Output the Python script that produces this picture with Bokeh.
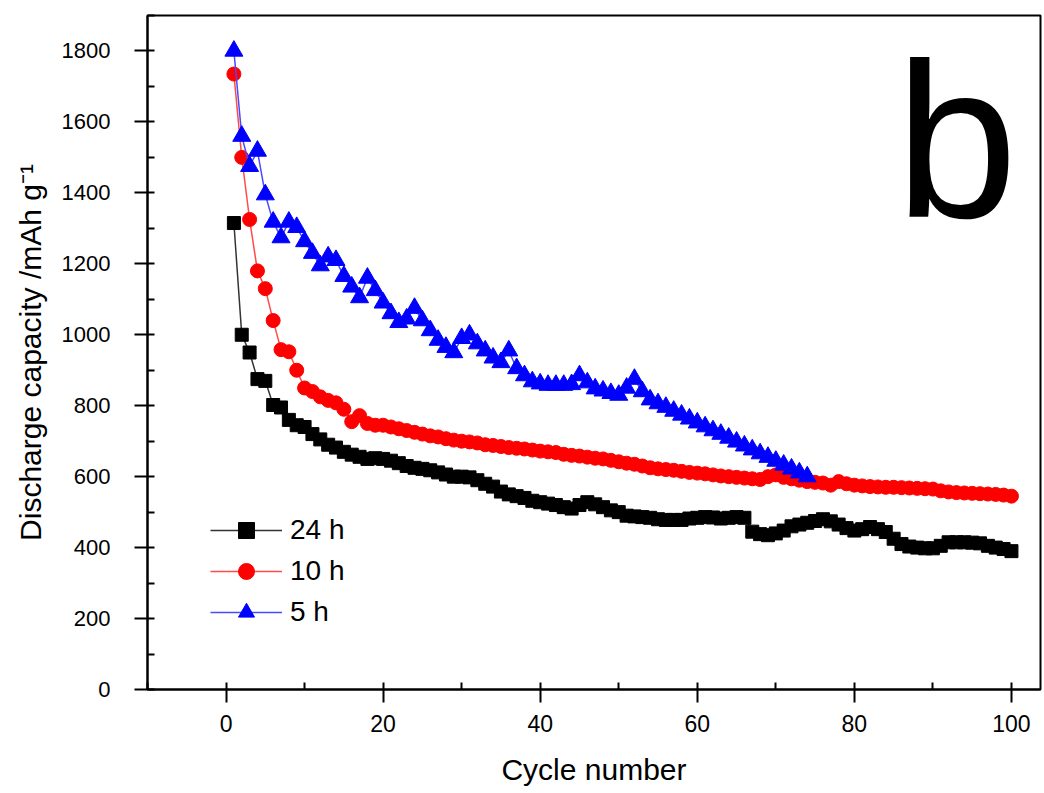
from bokeh.plotting import figure
from bokeh.models import SingleIntervalTicker, Label, Range1d
from bokeh.embed import file_html
from bokeh.resources import INLINE

# ---- data ----
cycles_24h = list(range(1, 101))
cap_24h = [1315, 1000, 950, 875, 870, 802, 795, 760, 745, 740,
           720, 705, 690, 682, 670, 662, 656, 650, 652, 650,
           645, 638, 630, 625, 622, 618, 612, 606, 600, 600,
           598, 590, 580, 572, 558, 550, 545, 540, 532, 528,
           524, 520, 514, 510, 520, 528, 522, 514, 505, 500,
           490, 488, 486, 484, 480, 478, 478, 478, 482, 484,
           486, 485, 482, 484, 486, 484, 445, 438, 435, 440,
           448, 460, 465, 470, 475, 480, 474, 465, 455, 448,
           452, 458, 452, 444, 425, 410, 403, 400, 398, 398,
           405, 415, 415, 415, 414, 412, 405, 400, 396, 390]

cycles_10h = list(range(1, 101))
cap_10h = [1735, 1500, 1325, 1180, 1130, 1040, 958, 952, 900, 850,
           840, 825, 815, 808, 790, 755, 772, 750, 745, 745,
           740, 735, 730, 725, 720, 715, 712, 707, 703, 700,
           698, 695, 690, 688, 685, 682, 680, 678, 675, 672,
           670, 668, 663, 660, 658, 655, 652, 650, 646, 642,
           638, 635, 630, 625, 622, 620, 618, 615, 612, 610,
           608, 605, 602, 600, 598, 596, 594, 592, 600, 605,
           598, 594, 590, 586, 584, 582, 576, 586, 580, 576,
           574, 572, 571, 570, 570, 569, 568, 567, 566, 565,
           560, 557, 555, 554, 553, 552, 551, 550, 548, 545]

cycles_5h = list(range(1, 75))
cap_5h = [1800, 1560, 1475, 1518, 1395, 1318, 1274, 1318, 1303, 1263,
          1230, 1195, 1220, 1210, 1165, 1135, 1105, 1160, 1125, 1090,
          1060, 1035, 1045, 1075, 1040, 1012, 985, 965, 950, 990,
          1000, 975, 955, 935, 922, 955, 905, 885, 868, 862,
          858, 858, 858, 860, 885, 865, 848, 842, 835, 830,
          850, 875, 840, 817, 806, 796, 785, 774, 763, 752,
          741, 730, 720, 709, 698, 687, 676, 665, 655, 644,
          633, 622, 611, 600]

x_label = "Cycle number"
y_label = "Discharge capacity /mAh g\u207b\u00b9"
series_names = ["24 h", "10 h", "5 h"]
panel_letter = "b"

FONT = "Liberation Sans"

p = figure(width=1044, height=793, output_backend="svg", toolbar_location=None,
           x_range=Range1d(-10, 103.7), y_range=Range1d(0, 1900),
           min_border_left=147, min_border_right=4, min_border_top=15, min_border_bottom=104)

p.background_fill_color = "white"
p.border_fill_color = "white"
p.outline_line_color = "black"
p.outline_line_width = 2
p.xgrid.visible = False
p.ygrid.visible = False

# series
p.line(cycles_24h, cap_24h, line_color="#333333", line_width=1.5, legend_label=series_names[0])
p.scatter(cycles_24h, cap_24h, marker="square", size=13, fill_color="black", line_color="black",
          legend_label=series_names[0])
p.line(cycles_10h, cap_10h, line_color="#ff4a4a", line_width=1.5, legend_label=series_names[1])
p.scatter(cycles_10h, cap_10h, marker="circle", size=14, fill_color="red", line_color="red",
          legend_label=series_names[1])
p.line(cycles_5h, cap_5h, line_color="#4a4aff", line_width=1.5, legend_label=series_names[2])
p.scatter(cycles_5h, cap_5h, marker="triangle", size=18, fill_color="blue", line_color="blue",
          legend_label=series_names[2])

# axes
p.xaxis.ticker = SingleIntervalTicker(interval=20, num_minor_ticks=2)
p.yaxis.ticker = SingleIntervalTicker(interval=200, num_minor_ticks=2)
for ax in (p.xaxis[0], p.yaxis[0]):
    ax.axis_line_width = 2
    ax.axis_line_color = "black"
    ax.major_tick_line_width = 2
    ax.minor_tick_line_width = 2
    ax.major_tick_in = 0
    ax.major_tick_out = 13
    ax.minor_tick_in = 7
    ax.minor_tick_out = 0
    ax.major_label_text_font = FONT
    ax.major_label_text_color = "black"
    ax.axis_label_text_font = FONT
    ax.axis_label_text_font_style = "normal"
    ax.axis_label_text_color = "black"
    ax.axis_label_text_font_size = "30px"

p.xaxis.major_label_text_font_size = "23px"
p.yaxis.major_label_text_font_size = "22px"
p.xaxis.major_label_standoff = 12
p.yaxis.major_label_standoff = 24
p.xaxis.axis_label = x_label
p.yaxis.axis_label = y_label
p.xaxis.axis_label_standoff = 18
p.yaxis.axis_label_standoff = 12

# legend
lg = p.legend[0]
lg.location = (63, 57)
lg.padding = 0
lg.margin = 0
lg.spacing = 1
lg.glyph_width = 72
lg.glyph_height = 40
lg.label_height = 40
lg.label_standoff = 8
lg.label_text_font = FONT
lg.label_text_font_size = "28px"
lg.label_text_color = "black"
lg.border_line_color = None
lg.background_fill_alpha = 0

# panel letter
p.add_layout(Label(x=93, y=1547, text=panel_letter, text_font=FONT, text_font_size="220px",
                   text_align="center", text_baseline="alphabetic", text_color="black"))

open("out.html", "w").write(file_html(p, INLINE))
